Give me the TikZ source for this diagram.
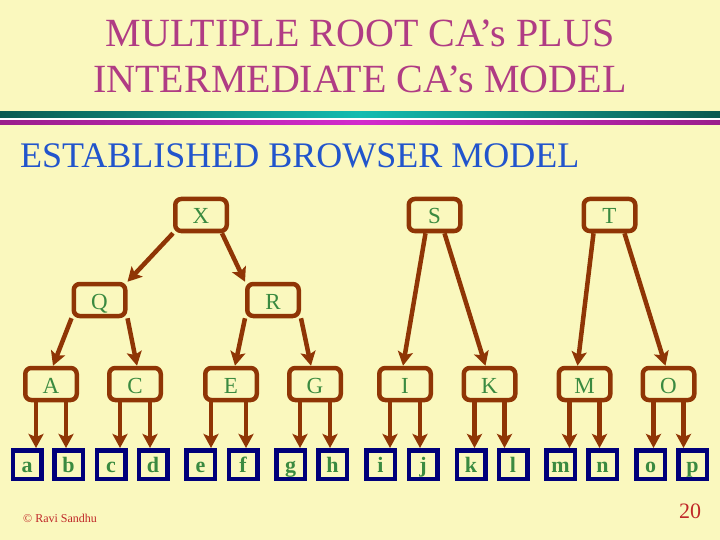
\documentclass[tikz,border=0pt]{standalone}
\usepackage{fontspec}
\setmainfont{Liberation Serif}
\usepackage{xcolor}
\usetikzlibrary{arrows.meta, positioning}
\definecolor{slidebg}{HTML}{FAF8BE}
\definecolor{titlemag}{HTML}{B03C84}
\definecolor{subblue}{HTML}{2255CC}
\definecolor{cagreen}{HTML}{3A8A40}
\definecolor{cabrown}{HTML}{8F3505}
\definecolor{leafnavy}{HTML}{00007A}
\definecolor{notered}{HTML}{C02828}
\definecolor{bardark}{HTML}{0A5A50}
\definecolor{barlight}{HTML}{14BCB0}
\definecolor{magdark}{HTML}{9A1E8C}
\definecolor{maglight}{HTML}{D22ACC}

\begin{document}
\begin{tikzpicture}[x=1pt, y=-1pt,
  ca/.style={draw=cabrown, line width=4.5pt, rounded corners=6pt,
    minimum width=51.5pt, minimum height=32pt, inner sep=0pt,
    text=cagreen, text height=18pt, text depth=0pt,
    font=\fontsize{23}{23}\selectfont},
  leaf/.style={draw=leafnavy, line width=4.5pt, minimum size=28.5pt,
    inner sep=0pt, text=cagreen, text height=16pt, text depth=0pt,
    font=\fontsize{22}{22}\selectfont\bfseries},
  link/.style={draw=cabrown, line width=4.5pt,
    -{Stealth[length=14pt,width=15pt,inset=3pt]}}]
  %% slide background and title bars
  \fill[slidebg] (0,0) rectangle (720,540);
  \shade[left color=bardark, right color=bardark, middle color=barlight]
    (0,112) rectangle (720,118);
  \fill[white] (0,118) rectangle (720,121);
  \shade[left color=magdark, right color=magdark, middle color=maglight]
    (0,121) rectangle (720,125);
  \node[anchor=base, text=titlemag, font=\fontsize{40}{40}\selectfont]
    (title1) at (360,47) {MULTIPLE ROOT CA’s PLUS};
  \node[anchor=base, text=titlemag, font=\fontsize{40}{40}\selectfont]
    (title2) at (360,93) {INTERMEDIATE CA’s MODEL};
  \node[anchor=base west, inner sep=0pt, text=subblue,
    font=\fontsize{36}{36}\selectfont] (sub) at (20,168)
    {ESTABLISHED BROWSER MODEL};

  %% root and intermediate CAs
  \node[ca] (X) at (201,215) {X};
  \node[ca] (S) at (434.5,215) {S};
  \node[ca] (T) at (609.5,215) {T};
  \node[ca] (Q) at (99.5,300) {Q};
  \node[ca] (R) at (273,300) {R};
  \foreach \n/\cx in {A/51, C/135, E/231, G/315, I/405, K/489.5, M/584.5, O/668.5}
    \node[ca] (\n) at (\cx,384) {\n};

  %% leaves
  \foreach \n/\cx in {a/27, b/68.5, c/111, d/153, e/200.5, f/243, g/290.5,
      h/332.5, i/380.5, j/423, k/471, l/513, m/560.5, n/602.5, o/650.5, p/692.5}
    \node[leaf] (\n) at (\cx,464.5) {\n};

  %% certification links
  \draw[link] (X.south west) -- (Q.north east);
  \draw[link] ([xshift=-7pt]X.south east) -- (R.north west);
  \draw[link] (Q.south west) -- ([xshift=2pt]A.north);
  \draw[link] (Q.south east) -- ([xshift=2pt]C.north);
  \draw[link] (R.south west) -- ([xshift=4pt]E.north);
  \draw[link] (R.south east) -- ([xshift=-4pt]G.north);
  \draw[link] ([xshift=-9pt]S.south) -- ([xshift=-2pt]I.north);
  \draw[link] ([xshift=10pt]S.south) -- ([xshift=-4pt]K.north);
  \draw[link] ([xshift=-16pt]T.south) -- ([xshift=-7pt]M.north);
  \draw[link] ([xshift=15pt]T.south) -- ([xshift=-3pt]O.north);
  \foreach \p/\l/\r/\dl in {A/a/b/15, C/c/d/15, E/e/f/20, G/g/h/15,
      I/i/j/15, K/k/l/15, M/m/n/15, O/o/p/15}{
    \coordinate (\p L) at ([xshift=-\dl pt]\p.south);
    \coordinate (\p R) at ([xshift=15pt]\p.south);
    \draw[link] (\p L) -- (\p L |- \l.north);
    \draw[link] (\p R) -- (\p R |- \r.north);
  }

  %% footer
  \node[anchor=base west, inner sep=0pt, text=notered,
    font=\fontsize{12}{12}\selectfont] (copy) at (23,522) {© Ravi Sandhu};
  \node[anchor=base, inner sep=0pt, text=notered,
    font=\fontsize{22}{22}\selectfont] (page) at (690,518) {20};
\end{tikzpicture}
\end{document}
